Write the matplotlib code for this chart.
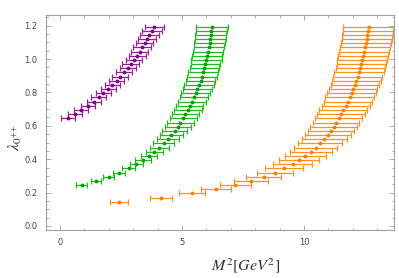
import matplotlib
matplotlib.use("Agg")
import matplotlib.pyplot as plt
from matplotlib.ticker import MultipleLocator

# lambda values (y) and M^2 values (x) with horizontal errors
lam_purple = [0.645, 0.67, 0.695, 0.72, 0.745, 0.77, 0.795, 0.82, 0.845, 0.87, 0.895, 0.92,
              0.945, 0.97, 0.995, 1.02, 1.045, 1.07, 1.095, 1.12, 1.145, 1.17, 1.195]
m2_purple = [0.33, 0.61, 0.87, 1.13, 1.38, 1.58, 1.78, 1.98, 2.14, 2.32, 2.47, 2.62,
             2.77, 2.90, 3.03, 3.16, 3.27, 3.37, 3.47, 3.57, 3.66, 3.77, 3.87]
err_purple = [0.27, 0.28, 0.28, 0.29, 0.29, 0.30, 0.30, 0.31, 0.31, 0.32, 0.32, 0.33,
              0.33, 0.34, 0.34, 0.35, 0.35, 0.36, 0.36, 0.37, 0.38, 0.39, 0.40]

lam_green = [0.245, 0.27, 0.295, 0.32, 0.345, 0.37, 0.395, 0.42, 0.445, 0.47, 0.495, 0.52,
             0.545, 0.57, 0.595, 0.62, 0.645, 0.67, 0.695, 0.72, 0.745, 0.77, 0.795, 0.82,
             0.845, 0.87, 0.895, 0.92, 0.945, 0.97, 0.995, 1.02, 1.045, 1.07, 1.095, 1.12,
             1.145, 1.17, 1.195]
m2_green = [0.89, 1.48, 2.00, 2.43, 2.81, 3.13, 3.40, 3.65, 3.87, 4.06, 4.25, 4.41,
            4.56, 4.70, 4.82, 4.93, 5.05, 5.14, 5.23, 5.31, 5.40, 5.48, 5.56, 5.63,
            5.70, 5.77, 5.82, 5.86, 5.92, 5.96, 6.00, 6.04, 6.08, 6.11, 6.13, 6.16,
            6.18, 6.20, 6.23]
err_green = [0.22, 0.21, 0.23, 0.24, 0.25, 0.28, 0.31, 0.34, 0.36, 0.39, 0.42, 0.45,
             0.48, 0.51, 0.53, 0.55, 0.56, 0.56, 0.57, 0.57, 0.58, 0.58, 0.59, 0.59,
             0.60, 0.60, 0.60, 0.61, 0.61, 0.61, 0.62, 0.62, 0.62, 0.63, 0.63, 0.63,
             0.64, 0.64, 0.64]

lam_orange = [0.145, 0.17, 0.195, 0.22, 0.245, 0.27, 0.295, 0.32, 0.345, 0.37, 0.395, 0.42,
              0.445, 0.47, 0.495, 0.52, 0.545, 0.57, 0.595, 0.62, 0.645, 0.67, 0.695, 0.72,
              0.745, 0.77, 0.795, 0.82, 0.845, 0.87, 0.895, 0.92, 0.945, 0.97, 0.995, 1.02,
              1.045, 1.07, 1.095, 1.12, 1.145, 1.17, 1.195]
m2_orange = [2.43, 4.14, 5.42, 6.39, 7.19, 7.83, 8.35, 8.80, 9.19, 9.53, 9.80, 10.05,
             10.27, 10.48, 10.67, 10.84, 10.98, 11.10, 11.21, 11.31, 11.42, 11.52, 11.61, 11.71,
             11.79, 11.87, 11.95, 12.02, 12.09, 12.14, 12.20, 12.25, 12.31, 12.35, 12.39, 12.43,
             12.47, 12.50, 12.54, 12.57, 12.60, 12.62, 12.65]
err_orange = [0.37, 0.46, 0.54, 0.61, 0.64, 0.68, 0.71, 0.74, 0.77, 0.80, 0.82, 0.84,
              0.86, 0.88, 0.90, 0.91, 0.93, 0.94, 0.95, 0.96, 0.97, 0.97, 0.98, 0.98,
              0.98, 0.99, 0.99, 0.99, 1.00, 1.00, 1.00, 1.01, 1.01, 1.01, 1.02, 1.02,
              1.02, 1.03, 1.03, 1.03, 1.04, 1.04, 1.04]

series = [
    (m2_purple, lam_purple, err_purple, "#800080", "#922592"),
    (m2_green, lam_green, err_green, "#00a000", "#22b822"),
    (m2_orange, lam_orange, err_orange, "#ff8000", "#ff9022"),
]

plt.rcParams["mathtext.fontset"] = "stix"

fig = plt.figure(figsize=(3.99, 2.78), dpi=100)
ax = fig.add_axes([0.1153, 0.1727, 0.8722, 0.7733])

for x, y, e, c_pt, c_bar in series:
    ax.errorbar(x, y, xerr=e, fmt="none", ecolor=c_bar, elinewidth=0.9,
                capsize=2.2, capthick=0.9)
    ax.plot(x, y, "o", color=c_pt, markersize=2.8, markeredgewidth=0)

ax.set_xlim(-0.574, 13.69)
ax.set_ylim(-0.024, 1.264)

ax.xaxis.set_major_locator(MultipleLocator(5))
ax.xaxis.set_minor_locator(MultipleLocator(1))
ax.yaxis.set_major_locator(MultipleLocator(0.2))
ax.yaxis.set_minor_locator(MultipleLocator(0.05))
ax.yaxis.set_major_formatter(matplotlib.ticker.FormatStrFormatter("%.1f"))

frame_col = "#a0a0a0"
for s in ax.spines.values():
    s.set_color(frame_col)
    s.set_linewidth(0.8)
ax.tick_params(which="both", direction="in", top=True, right=True,
               color=frame_col, width=0.6, labelsize=6, labelcolor="#444444")
ax.tick_params(which="major", length=3.5, pad=6)
ax.tick_params(which="minor", length=1.8)

fig.text(246 / 399, 1 - 266 / 278, r"$M^2[GeV^2]$", fontsize=11.5,
         ha="center", va="center", color="#333333")
fig.text(15 / 399, 1 - 138 / 278, r"$\lambda_{0^{++}}$", fontsize=11.5,
         ha="center", va="center", rotation=90, color="#333333")

fig.savefig("out.png", dpi=100)
